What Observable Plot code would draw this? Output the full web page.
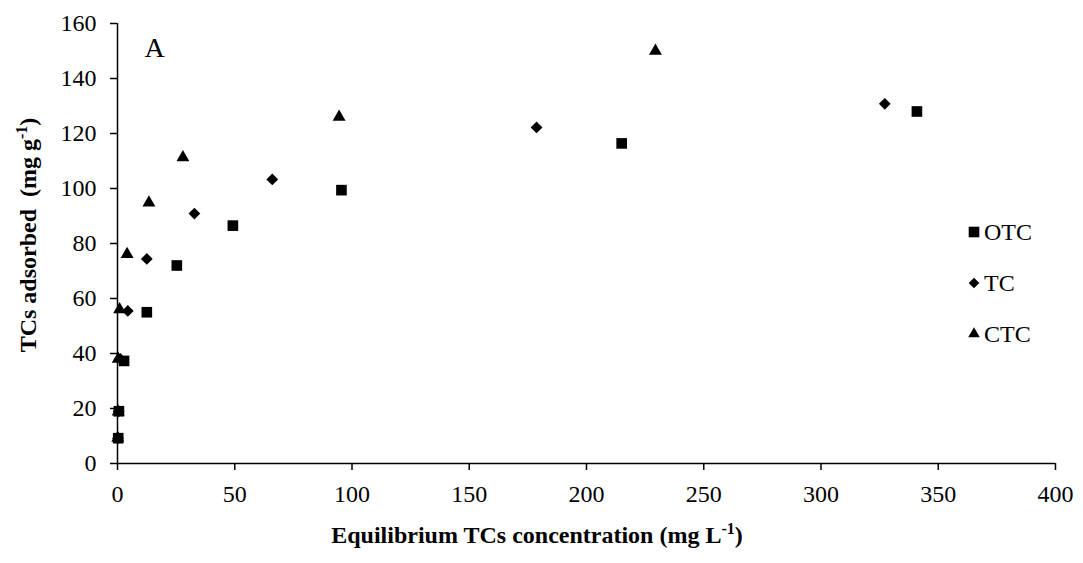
<!DOCTYPE html>
<html>
<head>
<meta charset="utf-8">
<script src="https://cdn.jsdelivr.net/npm/d3@7"></script>
<script src="https://cdn.jsdelivr.net/npm/@observablehq/plot@0.6"></script>
<style>
  html, body { margin: 0; padding: 0; background: #fff; }
  #wrap { position: relative; width: 1083px; height: 563px; font-family: "Liberation Serif", "Times New Roman", serif; }
  #legend { position: absolute; left: 967px; top: 217px; font-size: 24px; color: #000; }
  #legend .row { display: flex; align-items: center; height: 30px; margin-bottom: 21px; }
  #legend svg { margin-right: 3px; }
</style>
</head>
<body>
<div id="wrap"></div>
<script>
// ---- data ----
const otcX = [0.3, 0.6, 2.8, 12.5, 25.3, 49.2, 95.5, 215, 340.9];
const otcY = [9.2, 19.0, 37.3, 55.0, 72.0, 86.5, 99.4, 116.4, 128.0];
const tcX  = [0.2, 0.5, 1.2, 4.4, 12.5, 32.8, 66.0, 178.7, 327.2];
const tcY  = [9.2, 19.0, 38.0, 55.5, 74.4, 90.9, 103.3, 122.2, 130.8];
const ctcX = [0.1, 0.3, 0.3, 0.9, 4.1, 13.4, 27.9, 94.5, 229.4];
const ctcY = [9.3, 18.8, 38.0, 56.0, 76.1, 94.8, 111.3, 126.0, 150.0];
const seriesNames = ["OTC", "TC", "CTC"];
const xTicks = [0, 50, 100, 150, 200, 250, 300, 350, 400];
const yTicks = [0, 20, 40, 60, 80, 100, 120, 140, 160];

const toRows = (xs, ys, s) => xs.map((x, i) => ({x, y: ys[i], s}));
const otc = toRows(otcX, otcY, "OTC");
const tc = toRows(tcX, tcY, "TC");
const ctc = toRows(ctcX, ctcY, "CTC");

const font = "Liberation Serif, Times New Roman, serif";

const chart = Plot.plot({
  width: 1083,
  height: 563,
  marginLeft: 117,
  marginRight: 28,
  marginTop: 23,
  marginBottom: 100,
  style: { fontFamily: font, fontSize: "24px", color: "#000", background: "#fff" },
  x: { domain: [0, 400], ticks: xTicks, tickSize: 7, tickPadding: 14, label: null, tickFormat: d => String(d) },
  y: { domain: [0, 160], ticks: yTicks, tickSize: 7, tickPadding: 14, label: null, tickFormat: d => String(d) },
  marks: [
    Plot.ruleX([0], { stroke: "#000", strokeWidth: 1.5 }),
    Plot.ruleY([0], { stroke: "#000", strokeWidth: 1.5 }),
    Plot.dot(otc, { x: "x", y: "y", symbol: "square", r: 6, fill: "#000", stroke: "none" }),
    Plot.dot(tc, { x: "x", y: "y", symbol: "diamond2", r: 5.3, fill: "#000", stroke: "none" }),
    Plot.dot(ctc, { x: "x", y: "y", symbol: "triangle", r: 4.8, fill: "#000", stroke: "none" }),
    Plot.text(["A"], { frameAnchor: "top-left", dx: 37, dy: 14, fontSize: 28, fill: "#000", textAnchor: "middle" })
  ]
});

d3.select(chart).selectAll("[aria-label='x-axis tick'] path, [aria-label='y-axis tick'] path")
  .attr("stroke-width", 1.5);

// Axis titles with superscripts
const svg = d3.select(chart);
const xt = svg.append("text")
  .attr("x", 537).attr("y", 543)
  .attr("text-anchor", "middle")
  .attr("font-weight", "bold").attr("font-size", 24).attr("fill", "#000");
xt.append("tspan").text("Equilibrium TCs concentration (mg L");
xt.append("tspan").attr("font-size", 16).attr("dy", -9).text("-1");
xt.append("tspan").attr("dy", 9).text(")");

const yt = svg.append("text")
  .attr("transform", "translate(36,235) rotate(-90)")
  .attr("text-anchor", "middle")
  .attr("font-weight", "bold").attr("font-size", 24).attr("fill", "#000");
yt.append("tspan").text("TCs adsorbed\u00a0 (mg g");
yt.append("tspan").attr("font-size", 16).attr("dy", -9).text("-1");
yt.append("tspan").attr("dy", 9).text(")");

const wrap = document.getElementById("wrap");
wrap.appendChild(chart);

// Legend
const legend = document.createElement("div");
legend.id = "legend";
const symMap = { OTC: d3.symbolSquare, TC: d3.symbolDiamond2, CTC: d3.symbolTriangle };
const rFor = { OTC: 6, TC: 4.8, CTC: 4.3 };
seriesNames.forEach(name => {
  const row = document.createElement("div");
  row.className = "row";
  const s = d3.create("svg").attr("width", 14).attr("height", 14);
  s.append("path")
    .attr("transform", "translate(7,7)")
    .attr("d", d3.symbol(symMap[name], Math.PI * rFor[name] * rFor[name])())
    .attr("fill", "#000");
  row.appendChild(s.node());
  const t = document.createElement("span");
  t.textContent = name;
  row.appendChild(t);
  legend.appendChild(row);
});
wrap.appendChild(legend);
</script>
</body>
</html>
